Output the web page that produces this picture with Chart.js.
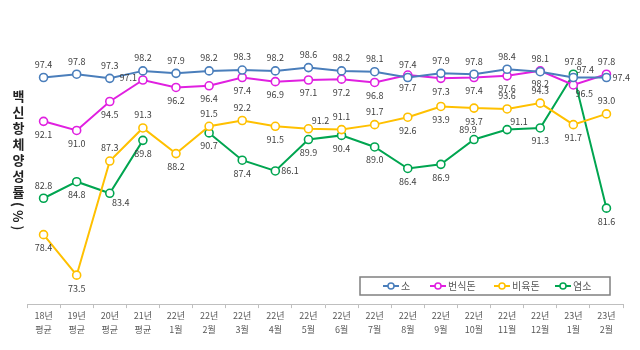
<!DOCTYPE html>
<html>
<head>
<meta charset="utf-8">
<script src="https://cdn.jsdelivr.net/npm/chart.js@4"></script>
<style>
  body { margin: 0; background: #fff; }
  #wrap { position: relative; width: 640px; height: 350px; }
  #ytitle {
    position: absolute; left: 9px; top: 90px;
    writing-mode: vertical-rl; font: bold 13px "Noto Sans CJK KR"; letter-spacing: 3px; color: #222;
  }
</style>
</head>
<body>
<div id="wrap">
  <canvas id="c" width="640" height="350"></canvas>
  <div id="ytitle">백신항체양성률(%)</div>
</div>
<script>
const labels = [
  ['18년','평균'], ['19년','평균'], ['20년','평균'], ['21년','평균'],
  ['22년','1월'], ['22년','2월'], ['22년','3월'], ['22년','4월'], ['22년','5월'],
  ['22년','6월'], ['22년','7월'], ['22년','8월'], ['22년','9월'], ['22년','10월'],
  ['22년','11월'], ['22년','12월'], ['23년','1월'], ['23년','2월']
];
const seriesNames = ['소', '번식돈', '비육돈', '염소'];
const cow = [97.4, 97.8, 97.3, 98.2, 97.9, 98.2, 98.3, 98.2, 98.6, 98.2, 98.1, 97.4, 97.9, 97.8, 98.4, 98.1, 97.4, 97.4];
const sow = [92.1, 91.0, 94.5, 97.1, 96.2, 96.4, 97.4, 96.9, 97.1, 97.2, 96.8, 97.7, 97.3, 97.4, 97.6, 98.2, 96.5, 97.8];
const pig = [78.4, 73.5, 87.3, 91.3, 88.2, 91.5, 92.2, 91.5, 91.2, 91.1, 91.7, 92.6, 93.9, 93.7, 93.6, 94.3, 91.7, 93.0];
const goat = [82.8, 84.8, 83.4, 89.8, null, 90.7, 87.4, 86.1, 89.9, 90.4, 89.0, 86.4, 86.9, 89.9, 91.1, 91.3, 97.8, 81.6];

// label placement: a above, b below, l left, r right, ar above-right, br below-right, al above-left
const cowPos  = ['a','a','a','a','a','a','a','a','a','a','a','a','a','a','a','a','ar','r'];
const sowPos  = ['b','b','b','l','b','b','b','b','b','b','b','b','b','b','b','b','br','a'];
const pigPos  = ['b','b','a','a','b','a','a','b','ar','a','a','b','b','b','a','a','b','a'];
const goatPos = ['a','b','br','b','b','b','b','r','b','b','b','b','b','al','ar','b','a','b'];

const colors = ['#4a7ebb', '#e020e0', '#ffc000', '#00a550'];

const valueLabels = {
  id: 'valueLabels',
  afterDatasetsDraw(chart) {
    const ctx = chart.ctx;
    const posSets = [cowPos, sowPos, pigPos, goatPos];
    ctx.save();
    ctx.font = '9px "Noto Sans CJK KR"';
    ctx.fillStyle = '#404040';
    ctx.textBaseline = 'middle';
    chart.data.datasets.forEach((ds, i) => {
      chart.getDatasetMeta(i).data.forEach((pt, j) => {
        const v = ds.data[j];
        if (v == null) return;
        const t = v.toFixed(1);
        const p = posSets[i][j];
        let x = pt.x, y = pt.y;
        ctx.textAlign = 'center';
        if (p === 'a') y -= 13;
        else if (p === 'b') y += 13;
        else if (p === 'l') { ctx.textAlign = 'right'; x -= 6; y -= 2; }
        else if (p === 'r') { ctx.textAlign = 'left'; x += 6; }
        else if (p === 'ar') { x += 12; y -= 8; }
        else if (p === 'br') { x += 11; y += 9; }
        else if (p === 'al') { x -= 6; y -= 10; }
        ctx.fillText(t, x, y);
      });
    });
    ctx.restore();
  }
};

const boxLegend = {
  id: 'boxLegend',
  afterDraw(chart) {
    const ctx = chart.ctx;
    ctx.save();
    ctx.fillStyle = '#fff';
    ctx.strokeStyle = '#808080';
    ctx.lineWidth = 1.5;
    ctx.fillRect(360, 277, 250, 18);
    ctx.strokeRect(360, 277, 250, 18);
    const marks = [391, 438, 502, 563];
    ctx.font = '10px "Noto Sans CJK KR"';
    ctx.textBaseline = 'middle';
    ctx.textAlign = 'left';
    marks.forEach((mx, i) => {
      const y = 286;
      ctx.strokeStyle = colors[i];
      ctx.lineWidth = 2;
      ctx.beginPath(); ctx.moveTo(mx - 8, y); ctx.lineTo(mx + 8, y); ctx.stroke();
      ctx.beginPath(); ctx.arc(mx, y, 3, 0, Math.PI * 2);
      ctx.fillStyle = '#fff'; ctx.fill(); ctx.lineWidth = 1.5; ctx.stroke();
      ctx.fillStyle = '#595959';
      ctx.fillText(seriesNames[i], mx + 10, y);
    });
    ctx.restore();
  }
};

function mkSet(name, data, color) {
  return {
    label: name, data: data,
    borderColor: color, backgroundColor: '#fff',
    borderWidth: 2, pointRadius: 4, pointBorderWidth: 1.6,
    pointBackgroundColor: '#fff', pointBorderColor: color,
    tension: 0, spanGaps: false
  };
}

new Chart(document.getElementById('c'), {
  type: 'line',
  data: {
    labels: labels,
    datasets: [
      mkSet(seriesNames[0], cow, colors[0]),
      mkSet(seriesNames[1], sow, colors[1]),
      mkSet(seriesNames[2], pig, colors[2]),
      mkSet(seriesNames[3], goat, colors[3])
    ]
  },
  options: {
    responsive: false,
    animation: false,
    layout: { padding: { left: 27, right: 17, top: 56, bottom: 12 } },
    scales: {
      x: {
        offset: true,
        grid: { offset: true, drawOnChartArea: false, tickLength: 4, color: '#bfbfbf' },
        border: { color: '#bfbfbf' },
        ticks: {
          padding: 1, maxRotation: 0, autoSkip: false, color: '#595959',
          font: { size: 9, family: '"Noto Sans CJK KR"', lineHeight: 1.55 }
        }
      },
      y: { display: false, min: 70, max: 100 }
    },
    plugins: { legend: { display: false }, tooltip: { enabled: false } }
  },
  plugins: [valueLabels, boxLegend]
});
</script>
</body>
</html>
